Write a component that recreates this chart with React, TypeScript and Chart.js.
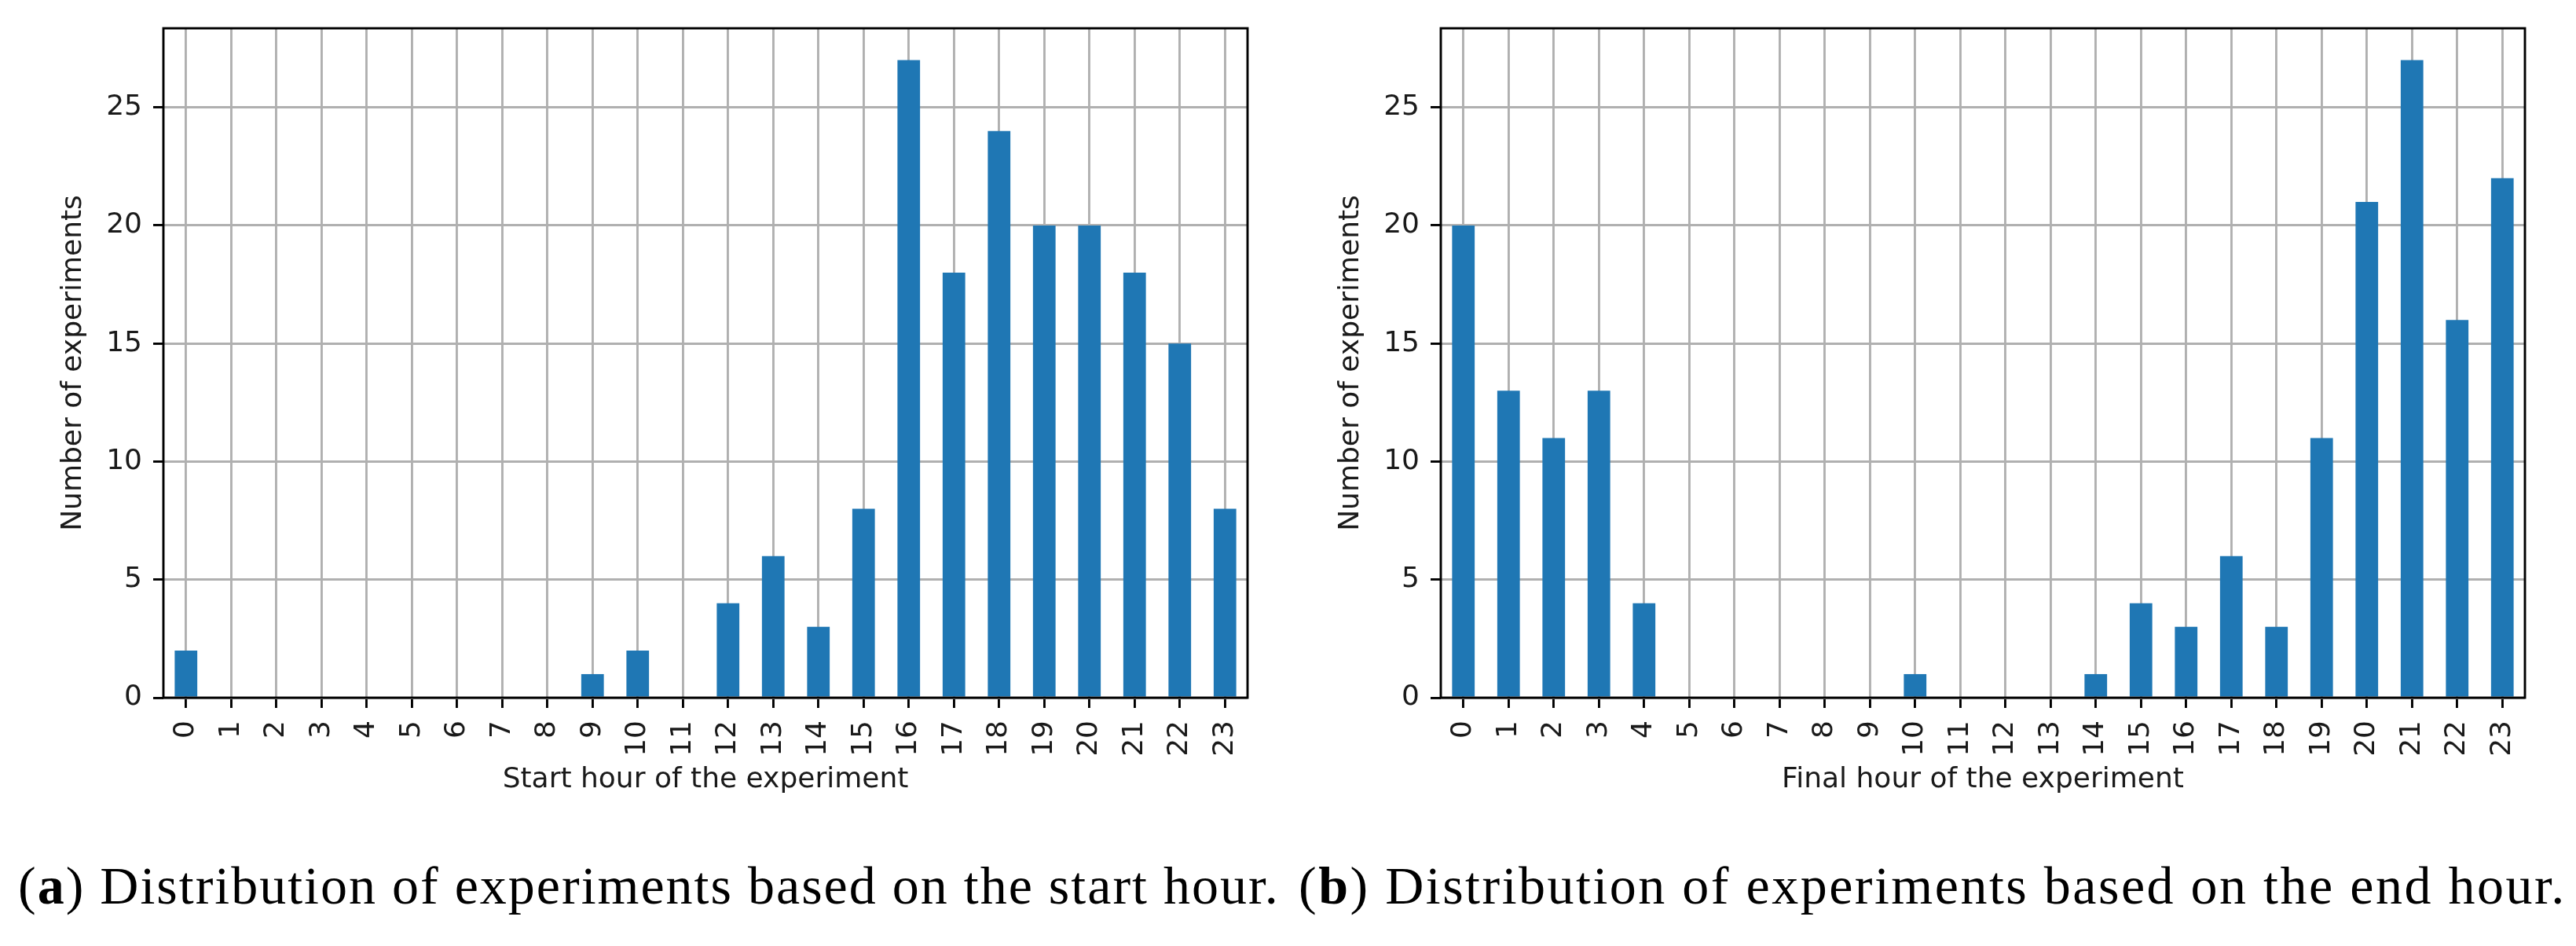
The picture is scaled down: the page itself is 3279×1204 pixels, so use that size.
import React, { useEffect, useRef } from "react";
import { Chart, registerables } from "chart.js";

Chart.register(...registerables);

// ---------- data ----------
const HOURS = [
  "0", "1", "2", "3", "4", "5", "6", "7", "8", "9", "10", "11",
  "12", "13", "14", "15", "16", "17", "18", "19", "20", "21", "22", "23",
];
const START_COUNTS = [2, 0, 0, 0, 0, 0, 0, 0, 0, 1, 2, 0, 4, 6, 3, 8, 27, 18, 24, 20, 20, 18, 15, 8];
const END_COUNTS = [20, 13, 11, 13, 4, 0, 0, 0, 0, 0, 1, 0, 0, 0, 1, 4, 3, 6, 3, 11, 21, 27, 16, 22];
const Y_TICKS = [0, 5, 10, 15, 20, 25];
const Y_MAX = 28.35;
const Y_TITLE = "Number of experiments";
const X_TITLE_A = "Start hour of the experiment";
const X_TITLE_B = "Final hour of the experiment";
const CAPTION_A_TAG = "a";
const CAPTION_A_TEXT = "Distribution of experiments based on the start hour.";
const CAPTION_B_TAG = "b";
const CAPTION_B_TEXT = "Distribution of experiments based on the end hour.";

// ---------- styles ----------
const BAR_COLOR = "#1f77b4";
const GRID_COLOR = "#b0b0b0";
const TEXT_COLOR = "#1a1a1a";
const FONT = { family: "'DejaVu Sans', sans-serif", size: 36 };
const LINE_W = 2.9;

const spinePlugin = {
  id: "spines",
  afterDraw(chart: any) {
    const { ctx, chartArea } = chart;
    const { left, top, right, bottom } = chartArea;
    ctx.save();
    ctx.strokeStyle = "#000";
    ctx.lineWidth = LINE_W;
    ctx.strokeRect(left, top, right - left, bottom - top);
    ctx.restore();
  },
};

function BarChart(props: { values: number[]; xTitle: string; left: number }) {
  const ref = useRef<HTMLCanvasElement | null>(null);
  useEffect(() => {
    const canvas = ref.current;
    if (!canvas) return;
    const chart = new Chart(canvas, {
      type: "bar",
      data: {
        labels: HOURS,
        datasets: [
          {
            data: props.values,
            backgroundColor: BAR_COLOR,
            borderWidth: 0,
            barPercentage: 0.5,
            categoryPercentage: 1.0,
          },
        ],
      },
      options: {
        animation: false,
        responsive: false,
        maintainAspectRatio: false,
        devicePixelRatio: 1,
        layout: { padding: { left: 0, right: 52, top: 36, bottom: 12 } },
        plugins: {
          legend: { display: false },
          tooltip: { enabled: false },
          title: { display: false },
        },
        scales: {
          x: {
            type: "category",
            offset: true,
            z: 1,
            grid: {
              display: true,
              offset: false,
              color: GRID_COLOR,
              lineWidth: LINE_W,
              drawTicks: true,
              tickLength: 13,
              tickColor: "#000",
              tickWidth: LINE_W,
            },
            border: { display: false },
            ticks: {
              minRotation: 90,
              maxRotation: 90,
              autoSkip: false,
              padding: 16,
              color: TEXT_COLOR,
              font: FONT,
            },
            title: {
              display: true,
              text: props.xTitle,
              color: TEXT_COLOR,
              font: FONT,
              padding: { top: 0, bottom: 14 },
            },
            afterFit: (s: any) => {
              s.height = 140;
            },
          },
          y: {
            type: "linear",
            min: 0,
            max: Y_MAX,
            z: 1,
            afterBuildTicks: (s: any) => {
              s.ticks = Y_TICKS.map((v) => ({ value: v }));
            },
            grid: {
              display: true,
              color: GRID_COLOR,
              lineWidth: LINE_W,
              drawTicks: true,
              tickLength: 13,
              tickColor: "#000",
              tickWidth: LINE_W,
            },
            border: { display: false },
            ticks: {
              padding: 14,
              color: TEXT_COLOR,
              font: FONT,
              callback: (v: any) => String(v),
            },
            title: {
              display: true,
              text: Y_TITLE,
              color: TEXT_COLOR,
              font: FONT,
              padding: { top: 72, bottom: 0 },
            },
            afterFit: (s: any) => {
              s.width = 208;
            },
          },
        },
      } as any,
      plugins: [spinePlugin],
    });
    return () => chart.destroy();
  }, []);
  return (
    <canvas
      ref={ref}
      width={1640}
      height={1040}
      style={{ position: "absolute", left: props.left, top: 0, width: 1640, height: 1040 }}
    />
  );
}

function Caption(props: { tag: string; text: string; left: number; spacing: number }) {
  return (
    <div
      style={{
        position: "absolute",
        left: props.left,
        top: 1093,
        fontFamily: "'Liberation Serif', serif",
        fontSize: 68,
        lineHeight: "68px",
        letterSpacing: props.spacing,
        whiteSpace: "nowrap",
        color: "#000",
      }}
    >
      (<b>{props.tag}</b>) {props.text}
    </div>
  );
}

export default function App() {
  return (
    <div
      style={{
        position: "absolute",
        left: 0,
        top: 0,
        width: 3279,
        height: 1204,
        background: "#fff",
        overflow: "hidden",
      }}
    >
      <BarChart values={START_COUNTS} xTitle={X_TITLE_A} left={0} />
      <BarChart values={END_COUNTS} xTitle={X_TITLE_B} left={1626} />
      <Caption tag={CAPTION_A_TAG} text={CAPTION_A_TEXT} left={23} spacing={2.0} />
      <Caption tag={CAPTION_B_TAG} text={CAPTION_B_TEXT} left={1653} spacing={2.5} />
    </div>
  );
}
